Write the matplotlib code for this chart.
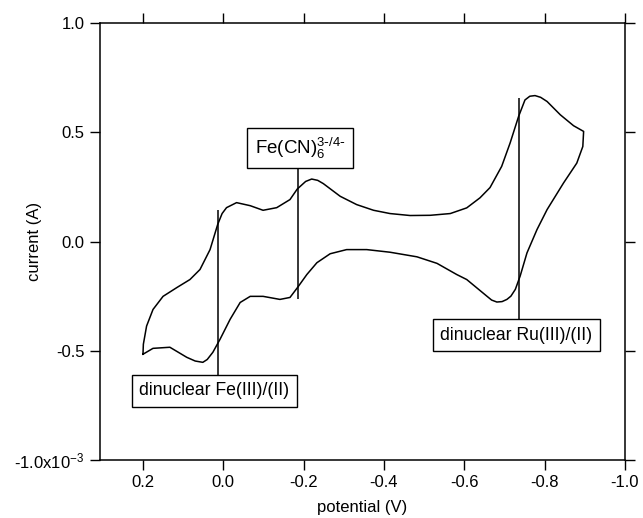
import matplotlib
matplotlib.use('Agg')
from matplotlib import pyplot as plt
from matplotlib.ticker import FixedLocator, FuncFormatter

plt.rcParams['font.family'] = ['Liberation Sans', 'DejaVu Sans']
plt.rcParams['axes.unicode_minus'] = False
plt.rcParams['mathtext.default'] = 'regular'

# cyclic voltammogram, potential in V, current in mA (scaled by 1e-3 below)
# forward scan: 0.2 V -> -0.9 V
fwd_v = [0.200, 0.199, 0.191, 0.175, 0.150, 0.115, 0.083, 0.058, 0.033, 0.014,
         0.003, -0.008, -0.033, -0.067, -0.099, -0.133, -0.166, -0.184, -0.205,
         -0.220, -0.235, -0.249, -0.291, -0.332, -0.374, -0.415, -0.465, -0.515,
         -0.565, -0.606, -0.639, -0.664, -0.693, -0.714, -0.735, -0.751, -0.763,
         -0.776, -0.790, -0.806, -0.839, -0.872, -0.897]
fwd_i = [-0.516, -0.470, -0.387, -0.311, -0.251, -0.210, -0.174, -0.128, -0.037,
         0.078, 0.128, 0.155, 0.178, 0.164, 0.143, 0.155, 0.192, 0.240, 0.275,
         0.286, 0.280, 0.265, 0.207, 0.169, 0.143, 0.128, 0.119, 0.120, 0.128,
         0.154, 0.200, 0.247, 0.344, 0.451, 0.572, 0.648, 0.665, 0.668, 0.660,
         0.641, 0.580, 0.530, 0.504]
# reverse scan: -0.9 V -> 0.2 V
rev_v = [-0.897, -0.895, -0.880, -0.847, -0.806, -0.781, -0.756, -0.739, -0.727,
         -0.716, -0.706, -0.694, -0.681, -0.668, -0.656, -0.606, -0.581, -0.532,
         -0.482, -0.415, -0.357, -0.307, -0.266, -0.233, -0.208, -0.185, -0.166,
         -0.141, -0.120, -0.099, -0.067, -0.042, -0.017, 0.008, 0.026, 0.040,
         0.051, 0.070, 0.091, 0.133, 0.175, 0.200]
rev_i = [0.504, 0.435, 0.359, 0.268, 0.146, 0.055, -0.052, -0.158, -0.219,
         -0.250, -0.265, -0.275, -0.277, -0.268, -0.250, -0.174, -0.151, -0.100,
         -0.070, -0.049, -0.037, -0.037, -0.056, -0.097, -0.151, -0.210, -0.256,
         -0.265, -0.258, -0.251, -0.251, -0.279, -0.356, -0.447, -0.507, -0.540,
         -0.553, -0.547, -0.530, -0.484, -0.489, -0.516]

x_ticks = [0.2, 0.0, -0.2, -0.4, -0.6, -0.8, -1.0]
y_ticks = [1.0e-3, 0.5e-3, 0.0, -0.5e-3, -1.0e-3]
y_labels = ['1.0', '0.5', '0.0', '-0.5', '-1.0x10$^{-3}$']

fig = plt.figure(figsize=(6.43, 5.18), dpi=100)
ax = fig.add_axes([0.1555, 0.112, 0.8165, 0.8435])

v = fwd_v + rev_v
cur = [c * 1e-3 for c in fwd_i + rev_i]
ax.plot(v, cur, color='black', lw=1.1)

ax.set_xlim(0.307, -1.0)
ax.set_ylim(-1.0e-3, 1.0e-3)

ax.xaxis.set_major_locator(FixedLocator(x_ticks))
ax.xaxis.set_major_formatter(FuncFormatter(lambda val, pos: '%.1f' % val if abs(val) > 1e-9 else '0.0'))
ax.yaxis.set_major_locator(FixedLocator(y_ticks))
ax.set_yticklabels(y_labels)

ax.tick_params(direction='out', length=7.5, width=1.0, labelsize=12, pad=3.5,
               top=True, right=True, labeltop=False, labelright=False)
for s in ax.spines.values():
    s.set_linewidth(1.1)

ax.set_xlabel('potential (V)', fontsize=12, labelpad=7)
ax.set_ylabel('current (A)', fontsize=12)
ax.yaxis.set_label_coords(-0.110, 0.5)

# tags
box = dict(boxstyle='square,pad=0.42', fc='white', ec='black', lw=1.0)
ax.vlines(0.014, -0.616e-3, 0.146e-3, color='black', lw=1.1)
ax.text(0.023, -0.684e-3, 'dinuclear Fe(III)/(II)', fontsize=12.7,
        ha='center', va='center', bbox=box)
ax.vlines(-0.185, -0.265e-3, 0.361e-3, color='black', lw=1.1)
ax.text(-0.191, 0.428e-3, r'Fe(CN)$_6^{3\text{-}/4\text{-}}$', fontsize=13.5,
        ha='center', va='center', bbox=box)
ax.vlines(-0.735, -0.365e-3, 0.658e-3, color='black', lw=1.1)
ax.text(-0.730, -0.428e-3, 'dinuclear Ru(III)/(II)', fontsize=12.7,
        ha='center', va='center', bbox=box)

fig.savefig('out.png', dpi=100)
